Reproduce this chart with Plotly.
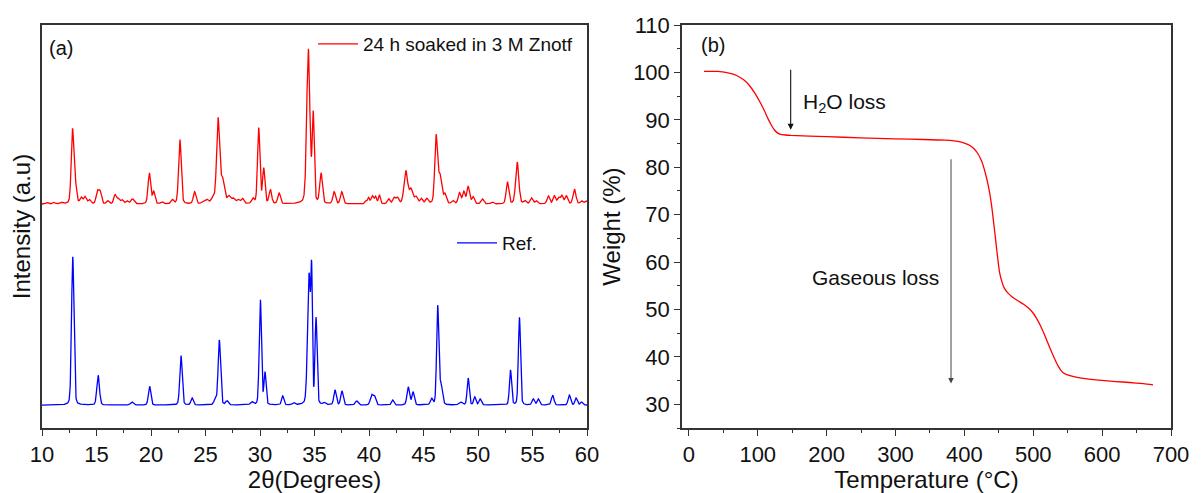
import numpy as np
import plotly.graph_objects as go

# ---------------- (a) XRD patterns ----------------
# Reference pattern: peak positions (2theta, deg), heights (a.u.), FWHM (deg)
ref_pos = [12.82, 15.15, 18.25, 19.87, 22.75, 23.77, 25.90, 26.27, 26.97, 29.25,
           30.03, 30.46, 32.08, 33.10, 34.50, 34.74, 35.14, 35.90, 36.88, 37.52,
           38.87, 40.25, 40.52, 42.17, 43.60, 44.04, 45.75, 46.30, 46.60, 48.40,
           49.10, 49.70, 50.20, 52.98, 53.80, 55.07, 55.53, 56.85, 58.38, 59.00,
           59.50]
ref_int = [149, 30, 3, 19, 50, 7, 5, 65, 4, 3,
           106, 32, 9, 2, 130, 113, 86, 2, 15, 14,
           4, 10, 8, 5, 18, 13, 6, 98, 20, 3,
           27, 8, 6, 35, 88, 6, 6, 10, 10, 7,
           3]
ref_fwhm = [0.26, 0.28, 0.30, 0.26, 0.26, 0.26, 0.30, 0.26, 0.28, 0.30,
            0.24, 0.22, 0.24, 0.26, 0.32, 0.16, 0.22, 0.26, 0.26, 0.26,
            0.30, 0.30, 0.26, 0.26, 0.28, 0.26, 0.26, 0.23, 0.32, 0.36,
            0.23, 0.23, 0.26, 0.23, 0.23, 0.26, 0.26, 0.28, 0.26, 0.26,
            0.26]

# Sample soaked 24 h in 3 M Zn(OTf)2
smp_pos = [10.50, 11.10, 11.80, 12.80, 13.08, 13.60, 13.95, 14.35, 15.08, 15.33,
           16.05, 16.70, 17.00, 17.35, 17.80, 18.30, 19.85, 20.25, 21.00, 21.95,
           22.65, 24.00, 24.75, 25.10, 25.70, 26.15, 26.55, 27.15, 27.55, 28.00,
           28.40, 29.35, 29.88, 30.34, 30.95, 31.75, 34.43, 34.88, 35.60, 36.80,
           37.50, 39.70, 39.95, 40.30, 40.60, 40.95, 41.80, 42.30, 42.60, 43.38,
           43.85, 44.30, 44.80, 45.30, 46.15, 46.50, 46.97, 47.70, 48.30, 48.70,
           49.10, 49.55, 50.40, 51.30, 52.70, 53.60, 54.30, 54.90, 55.35, 56.45,
           57.00, 57.40, 57.70, 58.10, 58.85, 59.50, 59.90]
smp_int = [1.5, 1.5, 1.5, 75, 16, 6, 7, 4, 12, 12,
           3, 9, 5, 4, 3, 5, 31, 12, 2, 4,
           65, 12, 2, 4, 5, 84, 24, 7, 5, 4,
           5, 5, 76, 35, 14, 11, 155, 88, 30, 12,
           12, 3, 6, 8, 7, 9, 5, 6, 6, 33,
           14, 7, 5, 5, 66, 28, 9, 3, 11, 12,
           17, 7, 5, 2, 22, 42, 3, 6, 3, 8,
           8, 6, 8, 8, 15, 3, 3]
smp_fwhm = [0.28, 0.28, 0.28, 0.28, 0.25, 0.28, 0.28, 0.28, 0.28, 0.28,
            0.28, 0.28, 0.28, 0.28, 0.28, 0.35, 0.28, 0.25, 0.28, 0.28,
            0.28, 0.28, 0.28, 0.35, 0.42, 0.31, 0.42, 0.35, 0.35, 0.35,
            0.28, 0.28, 0.25, 0.25, 0.28, 0.28, 0.34, 0.22, 0.28, 0.28,
            0.28, 0.21, 0.21, 0.28, 0.21, 0.21, 0.28, 0.28, 0.28, 0.39,
            0.35, 0.35, 0.28, 0.28, 0.28, 0.39, 0.28, 0.28, 0.28, 0.28,
            0.28, 0.28, 0.28, 0.28, 0.28, 0.34, 0.28, 0.28, 0.28, 0.28,
            0.28, 0.28, 0.28, 0.28, 0.31, 0.28, 0.28]

# Vertical offsets used to stack the two patterns
ref_offset = 23
smp_offset = 225

# ---------------- (b) TGA curve ----------------
tga_temp = [22, 42, 60, 70, 80, 87, 95, 103, 110, 115, 120, 124, 128, 132, 140, 148,
            200, 249, 300, 340, 372, 385, 394, 402, 408, 414, 419, 425, 430, 435,
            439, 444, 447, 451, 455, 458, 463, 469, 477, 486, 493, 500, 506, 511,
            518, 525, 531, 536, 541, 545, 552, 562, 578, 595, 620, 640, 660, 674]
tga_wt = [100.2, 100.2, 99.8, 99.3, 98.4, 97.4, 95.8, 93.8, 91.8, 90.2, 88.8, 87.9, 87.3, 87.0, 86.8, 86.7,
          86.45, 86.2, 86.0, 85.85, 85.7, 85.55, 85.35, 85.0, 84.6, 83.9, 83.0, 81.3, 79.0, 75.9,
          72.5, 66.5, 62.6, 57.9, 55.6, 54.5, 53.5, 52.7, 51.9, 51.1, 50.3, 49.2, 47.8, 46.4,
          44.1, 41.6, 39.6, 38.1, 37.0, 36.5, 36.1, 35.75, 35.35, 35.1, 34.8, 34.6, 34.35, 34.1]


def pattern(x, pos, inten, fwhm, eta=0.35):
    """Sum of pseudo-Voigt profiles for a list of reflections."""
    y = np.zeros_like(x)
    for p, h, w in zip(pos, inten, fwhm):
        d = (x - p) / w
        g = np.exp(-4 * np.log(2) * d ** 2)
        lz = 1.0 / (1.0 + 4 * d ** 2)
        y += h * ((1 - eta) * g + eta * lz)
    return y


two_theta = np.arange(10.0, 60.0001, 0.02)
ref_curve = pattern(two_theta, ref_pos, ref_int, ref_fwhm, eta=0.2) + ref_offset
smp_curve = pattern(two_theta, smp_pos, smp_int, smp_fwhm, eta=0.25) + smp_offset

FONT = "Liberation Sans, Arial, sans-serif"
AXIS_COLOR = "#333333"

fig = go.Figure()

fig.add_trace(go.Scatter(
    x=two_theta, y=smp_curve, mode="lines", name="24 h soaked in 3 M Znotf",
    line=dict(color="#ff0000", width=1.3), xaxis="x", yaxis="y", legend="legend",
))
fig.add_trace(go.Scatter(
    x=two_theta, y=ref_curve, mode="lines", name="Ref.",
    line=dict(color="#0000ff", width=1.3), xaxis="x", yaxis="y", legend="legend2",
))
fig.add_trace(go.Scatter(
    x=tga_temp, y=tga_wt, mode="lines", name="TGA", showlegend=False,
    line=dict(color="#ff0000", width=1.3, shape="spline", smoothing=0.6),
    xaxis="x2", yaxis="y2",
))

W, H = 1204, 493
MT, MB = 25, 65
PLOT_H = H - MT - MB


def px_x(p):
    return p / W


axis_common = dict(
    showline=True, linecolor=AXIS_COLOR, linewidth=1.5, mirror=True,
    showgrid=False, zeroline=False, automargin=False,
    tickfont=dict(family=FONT, size=22, color="#111111"),
)
major = dict(ticks="outside", ticklen=6, tickwidth=1.3, tickcolor=AXIS_COLOR)
minor_style = dict(ticks="outside", ticklen=3.5, tickwidth=1.2, tickcolor=AXIS_COLOR)

fig.update_layout(
    width=W, height=H,
    margin=dict(l=0, r=0, t=MT, b=MB),
    paper_bgcolor="white", plot_bgcolor="white",
    font=dict(family=FONT, color="#111111"),
    xaxis=dict(
        domain=[px_x(42), px_x(587)], range=[10, 60], anchor="y",
        tickmode="linear", tick0=10, dtick=5, **major,
        minor=dict(dtick=2.5, **minor_style),
        title=dict(text="2θ(Degrees)", font=dict(family=FONT, size=24), standoff=7),
        **axis_common,
    ),
    yaxis=dict(
        domain=[0, 1], range=[0, 405], anchor="x",
        showticklabels=False, ticks="",
        title=dict(text="Intensity (a.u)", font=dict(family=FONT, size=24), standoff=3),
        **axis_common,
    ),
    xaxis2=dict(
        domain=[px_x(682), px_x(1171)], range=[-10, 700], anchor="y2",
        tickmode="linear", tick0=0, dtick=100, **major,
        minor=dict(dtick=50, **minor_style),
        title=dict(text="Temperature (°C)", font=dict(family=FONT, size=24), standoff=7),
        **axis_common,
    ),
    yaxis2=dict(
        domain=[0, 1], range=[25, 110], anchor="x2",
        tickmode="linear", tick0=30, dtick=10, **major,
        minor=dict(dtick=5, **minor_style),
        title=dict(text="Weight (%)", font=dict(family=FONT, size=24), standoff=6),
        **axis_common,
    ),
    legend=dict(
        x=px_x(313), y=1.0, xanchor="left", yanchor="top",
        bgcolor="rgba(0,0,0,0)", borderwidth=0, itemwidth=40,
        font=dict(family=FONT, size=19, color="#111111"),
    ),
    legend2=dict(
        x=px_x(452), y=(H - MB - 224) / PLOT_H, xanchor="left", yanchor="top",
        bgcolor="rgba(0,0,0,0)", borderwidth=0, itemwidth=40,
        font=dict(family=FONT, size=19, color="#111111"),
    ),
)

annotations = [
    dict(text="(a)", xref="x", yref="y", x=10.5, y=382, xanchor="left", yanchor="middle",
         showarrow=False, font=dict(family=FONT, size=20)),
    dict(text="(b)", xref="x2", yref="y2", x=14, y=105.8, xanchor="left", yanchor="middle",
         showarrow=False, font=dict(family=FONT, size=20)),
    dict(text="H<sub>2</sub>O loss", xref="x2", yref="y2", x=163, y=93.6, xanchor="left",
         yanchor="middle", showarrow=False, font=dict(family=FONT, size=21)),
    dict(text="Gaseous loss", xref="x2", yref="y2", x=366, y=56.7, xanchor="right",
         yanchor="middle", showarrow=False, font=dict(family=FONT, size=21)),
    # arrows
    dict(text="", xref="x2", yref="y2", axref="x2", ayref="y2",
         x=147.8, y=87.9, ax=147.8, ay=100.9, showarrow=True,
         arrowhead=2, arrowsize=1.1, arrowwidth=1.1, arrowcolor="#111111", standoff=0),
    dict(text="", xref="x2", yref="y2", axref="x2", ayref="y2",
         x=380.6, y=34.4, ax=380.6, ay=82.0, showarrow=True,
         arrowhead=2, arrowsize=1.1, arrowwidth=1.0, arrowcolor="#444444", standoff=0),
]
fig.update_layout(annotations=annotations)

fig.write_html("out.html")
